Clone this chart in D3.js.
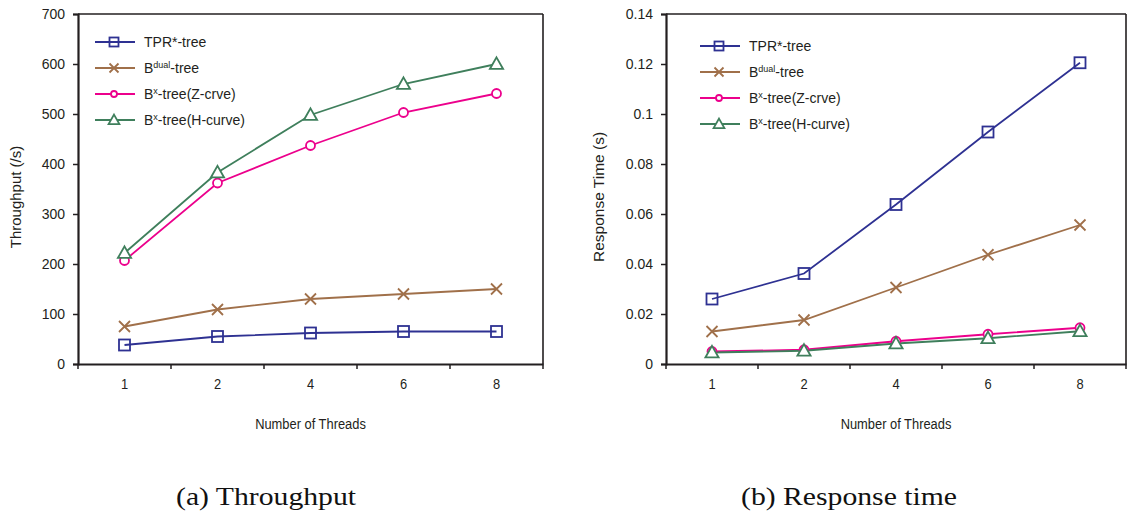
<!DOCTYPE html>
<html>
<head>
<meta charset="utf-8">
<script src="https://cdn.jsdelivr.net/npm/d3@7"></script>
<style>
  body { margin: 0; background: #fff; }
  svg { display: block; }
  .tick text { fill: #231f20; }
</style>
</head>
<body>
<div id="chart"></div>
<script>
// data
var threads = ["1", "2", "4", "6", "8"];
var seriesNames = ["TPR*-tree", "Bdual-tree", "Bx-tree(Z-crve)", "Bx-tree(H-curve)"];

var throughputTPR   = [38, 55, 62, 65, 65];
var throughputDual  = [75, 109, 130, 140, 150];
var throughputZ     = [207, 362, 437, 503, 541];
var throughputH     = [222, 383, 498, 560, 600];
var throughputTicks = [0, 100, 200, 300, 400, 500, 600, 700];

var responseTPR   = [0.026, 0.0362, 0.0638, 0.0928, 0.1205];
var responseDual  = [0.013, 0.0176, 0.0306, 0.0437, 0.0556];
var responseZ     = [0.005, 0.0057, 0.0091, 0.0119, 0.0145];
var responseH     = [0.0046, 0.0053, 0.0082, 0.0103, 0.0131];
var responseTicks = [0, 0.02, 0.04, 0.06, 0.08, 0.1, 0.12, 0.14];

var colors  = ["#2e3192", "#a0704a", "#ec008c", "#3f7f5c"];
var symbols = ["square", "cross", "circle", "triangle"];

var svg = d3.select("#chart").append("svg")
  .attr("width", 1127).attr("height", 514);

var axisColor = "#231f20";
var sans = "'Liberation Sans', Arial, sans-serif";

function marker(g, type, color, s) {
  if (type === "square") {
    g.append("rect").attr("x", -s/2).attr("y", -s/2).attr("width", s).attr("height", s)
      .attr("fill", "none").attr("stroke", color).attr("stroke-width", 1.8);
  } else if (type === "cross") {
    var h = s/2;
    g.append("path").attr("d", "M" + (-h) + "," + (-h) + "L" + h + "," + h + "M" + (-h) + "," + h + "L" + h + "," + (-h))
      .attr("stroke", color).attr("stroke-width", 1.8).attr("fill", "none");
  } else if (type === "circle") {
    g.append("circle").attr("r", s/2 - 0.5).attr("fill", "#fff").attr("stroke", color).attr("stroke-width", 1.8);
  } else {
    var w = s * 0.6, t = s * 0.6;
    g.append("path").attr("d", "M0," + (-t) + "L" + w + "," + (t*0.75) + "L" + (-w) + "," + (t*0.75) + "Z")
      .attr("fill", "#fff").attr("stroke", color).attr("stroke-width", 1.8);
  }
}

// condensed text: draw normal sans and squeeze it horizontally
function narrowText(g, x, y, str, size) {
  return g.append("text")
    .attr("transform", "translate(" + x + "," + y + ") scale(0.86,1)")
    .attr("text-anchor", "middle").style("font-family", sans)
    .style("font-size", size + "px").attr("fill", "#231f20").text(str);
}

function drawPanel(opt) {
  var x = d3.scaleBand().domain(threads).range([opt.left, opt.right]);
  var y = d3.scaleLinear().domain(opt.domain).range([364, 14]);

  var g = svg.append("g");

  // frame
  g.append("line").attr("x1", opt.left).attr("x2", opt.right).attr("y1", 14).attr("y2", 14)
    .attr("stroke", axisColor).attr("stroke-width", 1.6);
  g.append("line").attr("x1", opt.right).attr("x2", opt.right).attr("y1", 14).attr("y2", 364)
    .attr("stroke", axisColor).attr("stroke-width", 1.6);

  var yAxis = g.append("g").attr("transform", "translate(" + opt.left + ",0)")
    .call(d3.axisLeft(y).tickValues(opt.ticks).tickSize(5).tickPadding(8).tickFormat(d3.format("")));
  yAxis.selectAll("text").style("font-family", sans).style("font-size", "14px");

  var xAxis = g.append("g").attr("transform", "translate(0,364)")
    .call(d3.axisBottom(x).tickSize(0).tickFormat(""));
  threads.forEach(function (d) {
    narrowText(g, x(d) + x.bandwidth() / 2, 389, d, 15);
  });
  // tick marks on band edges
  var edges = threads.map(function (d) { return x(d); }).concat([opt.right]);
  g.selectAll(".edge").data(edges).enter().append("line")
    .attr("x1", function (d) { return d; }).attr("x2", function (d) { return d; })
    .attr("y1", 364).attr("y2", 369).attr("stroke", axisColor).attr("stroke-width", 1.5);

  g.selectAll(".domain").attr("stroke", axisColor).attr("stroke-width", 2.2);
  g.selectAll(".tick line").attr("stroke", axisColor).attr("stroke-width", 1.5);

  var line = d3.line()
    .x(function (d, i) { return x(threads[i]) + x.bandwidth() / 2; })
    .y(function (d) { return y(d); });

  opt.series.forEach(function (vals, k) {
    g.append("path").datum(vals).attr("d", line)
      .attr("fill", "none").attr("stroke", colors[k]).attr("stroke-width", 1.8);
  });
  opt.series.forEach(function (vals, k) {
    vals.forEach(function (v, i) {
      var m = g.append("g").attr("transform", "translate(" + (x(threads[i]) + x.bandwidth() / 2) + "," + y(v) + ")");
      marker(m, symbols[k], colors[k], k === 2 ? 10 : 11);
    });
  });

  // legend
  seriesNames.forEach(function (name, k) {
    var ly = opt.legendY + k * 26;
    var lg = g.append("g").attr("transform", "translate(" + opt.legendX + "," + ly + ")");
    lg.append("line").attr("x1", 0).attr("x2", 40).attr("y1", 0).attr("y2", 0)
      .attr("stroke", colors[k]).attr("stroke-width", 1.8);
    var m = lg.append("g").attr("transform", "translate(19,0)");
    marker(m, symbols[k], colors[k], k === 2 ? 7 : 9);
    var t = lg.append("text").attr("x", 49).attr("y", 5)
      .style("font-family", sans).style("font-size", "14px").attr("fill", "#231f20");
    if (k === 0) {
      t.text(name);
    } else {
      var sup = k === 1 ? "dual" : "x";
      var rest = name.slice(1 + sup.length);
      t.append("tspan").text("B");
      t.append("tspan").attr("dy", -5).style("font-size", "9px").text(sup);
      t.append("tspan").attr("dy", 5).text(rest);
    }
  });

  // axis titles
  g.append("text").attr("transform", "translate(" + opt.yTitleX + ",197) rotate(-90)")
    .attr("text-anchor", "middle").style("font-family", sans)
    .style("font-size", opt.yTitleSize + "px").attr("fill", "#231f20").text(opt.yTitle);
  narrowText(g, (opt.left + opt.right) / 2, 429, "Number of Threads", 15);

  g.append("text").attr("x", opt.captionX).attr("y", 505)
    .attr("text-anchor", "middle").style("font-family", "'Liberation Serif', 'DejaVu Serif', serif")
    .style("font-size", "25px").attr("fill", "#111")
    .attr("textLength", opt.captionW).attr("lengthAdjust", "spacingAndGlyphs")
    .text(opt.caption);
}

drawPanel({
  left: 78, right: 543, domain: [0, 700], ticks: throughputTicks,
  series: [throughputTPR, throughputDual, throughputZ, throughputH],
  legendX: 95, legendY: 42, yTitleX: 21, yTitle: "Throughput (/s)", yTitleSize: 15,
  caption: "(a) Throughput", captionX: 266, captionW: 180
});

drawPanel({
  left: 666, right: 1126, domain: [0, 0.14], ticks: responseTicks,
  series: [responseTPR, responseDual, responseZ, responseH],
  legendX: 700, legendY: 46, yTitleX: 604, yTitle: "Response Time (s)", yTitleSize: 15.5,
  caption: "(b) Response time", captionX: 849, captionW: 216
});
</script>
</body>
</html>
